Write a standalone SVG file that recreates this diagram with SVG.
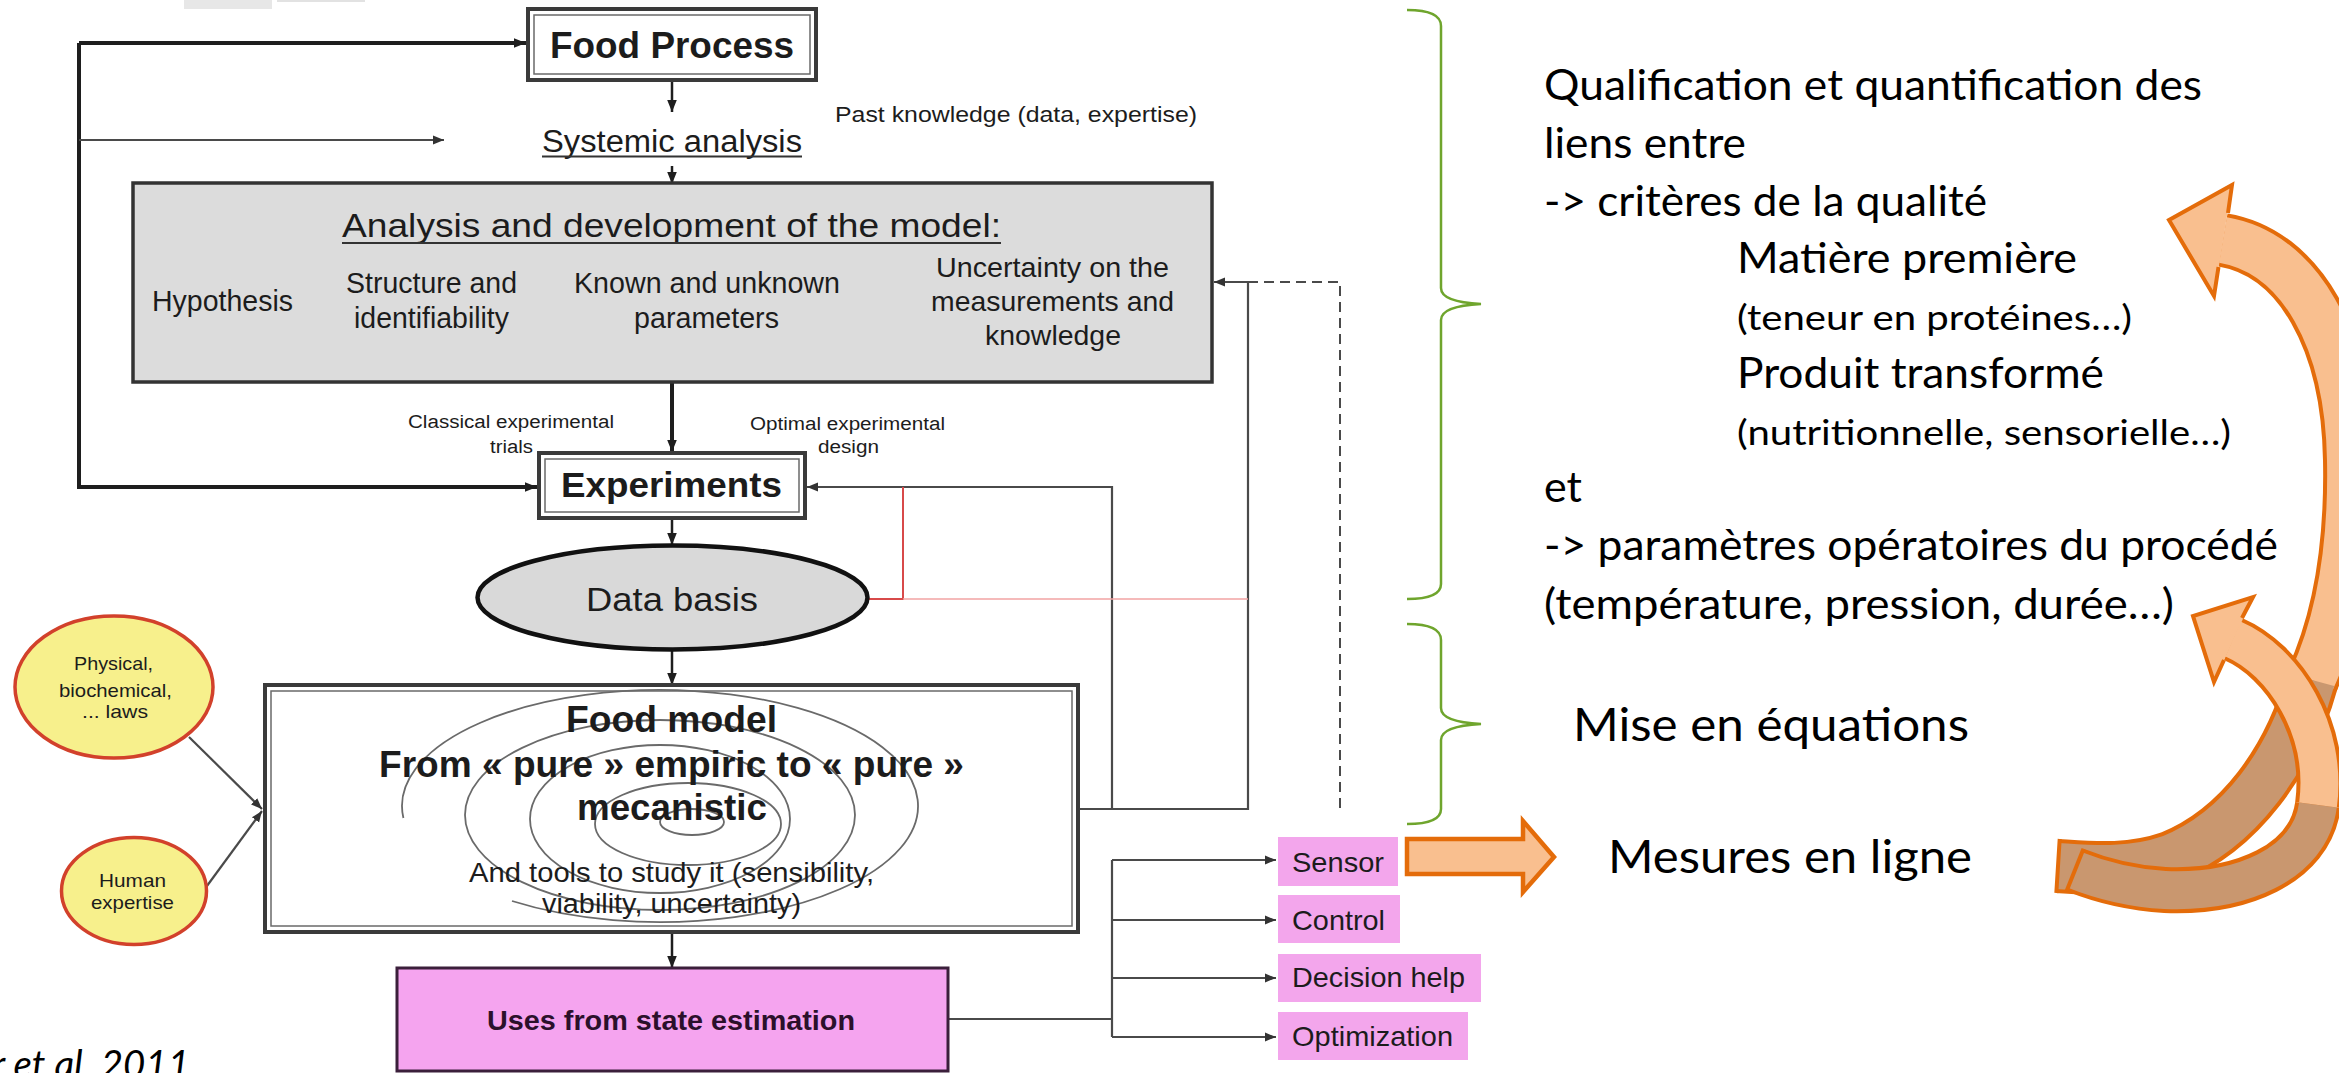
<svg xmlns="http://www.w3.org/2000/svg" width="2339" height="1073" viewBox="0 0 2339 1073">
  <defs>
    <style>
      .lt { font-family: "Liberation Sans", Arial, sans-serif; fill: #1c1c1c; }
      .b { font-weight: bold; }
      .rt { font-family: Lato, "Open Sans", sans-serif; fill: #000; }
      .thick { stroke: #1e1e1e; stroke-width: 4; fill: none; }
      .mid { stroke: #1e1e1e; stroke-width: 2.5; fill: none; }
      .thin { stroke: #4a4a4a; stroke-width: 2.2; fill: none; }
      .dash { stroke: #4a4a4a; stroke-width: 2; fill: none; stroke-dasharray: 10 6; }
      .frame-out { fill: #fff; stroke: #3a3a3a; stroke-width: 4; }
      .frame-in { fill: none; stroke: #6a6a6a; stroke-width: 1.5; }
      .spiral { fill: none; stroke: #6a6a6a; stroke-width: 1.8; }
      .law { fill: #f7f08c; stroke: #d2412b; stroke-width: 3.5; }
      .tag { fill: #f3a6ec; }
      .brace { fill: none; stroke: #6fa52d; stroke-width: 2.5; }
      .ol { fill: none; stroke: #e46c0a; stroke-linecap: butt; }
      .light { fill: none; stroke: #f9bf8f; stroke-linecap: butt; }
      .dark { fill: none; stroke: #c9976f; stroke-linecap: butt; }
    </style>
    <marker id="ah" viewBox="0 0 10 10" refX="10" refY="5" markerWidth="12" markerHeight="12" markerUnits="userSpaceOnUse" orient="auto">
      <path d="M0,1 L10,5 L0,9 z" fill="#1e1e1e"/>
    </marker>
    <marker id="ahg" viewBox="0 0 10 10" refX="10" refY="5" markerWidth="11" markerHeight="11" markerUnits="userSpaceOnUse" orient="auto">
      <path d="M0,1 L10,5 L0,9 z" fill="#333"/>
    </marker>
  </defs>

  <rect width="2339" height="1073" fill="#fff"/>

  <!-- slide remnants at the top edge -->
  <rect x="184" y="0" width="88" height="9" fill="#e7e7e7"/>
  <rect x="277" y="0" width="88" height="2" fill="#e2e2e2"/>

  <!-- connectors -->
  <g id="connectors">
    <path class="thick" d="M 79 43 H 526" marker-end="url(#ah)"/>
    <path class="thick" d="M 79 43 V 487 H 537" marker-end="url(#ah)"/>
    <path class="thin" d="M 79 140 H 444" marker-end="url(#ahg)"/>
    <path class="mid" d="M 672 80 V 112" marker-end="url(#ah)"/>
    <path class="mid" d="M 672 166 V 184" marker-end="url(#ah)"/>
    <path class="thick" d="M 672 382 V 452" marker-end="url(#ah)"/>
    <path class="mid" d="M 672 518 V 545" marker-end="url(#ah)"/>
    <path class="mid" d="M 672 650 V 685" marker-end="url(#ah)"/>
    <path class="mid" d="M 672 932 V 968" marker-end="url(#ah)"/>
    <!-- feedback from the food model -->
    <path class="thin" d="M 1078 809 H 1248 V 282 H 1214" marker-end="url(#ahg)"/>
    <path class="thin" d="M 1112 809 V 487 H 807" marker-end="url(#ahg)"/>
    <path class="dash" d="M 1248 282 H 1340 V 812"/>
    <!-- data basis link -->
    <path d="M 868 599 H 903 V 487" fill="none" stroke="#d84a4a" stroke-width="2"/>
    <path d="M 903 599 H 1248" fill="none" stroke="#f2a3a3" stroke-width="1.6"/>
    <!-- knowledge sources -->
    <path class="thin" d="M 189 737 L 262 809" marker-end="url(#ahg)"/>
    <path class="thin" d="M 204 890 L 262 811" marker-end="url(#ahg)"/>
    <!-- uses -->
    <path class="thin" d="M 948 1019 H 1112 M 1112 860 V 1037"/>
    <path class="thin" d="M 1112 860 H 1276" marker-end="url(#ahg)"/>
    <path class="thin" d="M 1112 920 H 1276" marker-end="url(#ahg)"/>
    <path class="thin" d="M 1112 978 H 1276" marker-end="url(#ahg)"/>
    <path class="thin" d="M 1112 1037 H 1276" marker-end="url(#ahg)"/>
  </g>

  <g id="food-process">
    <rect class="frame-out" x="528" y="9" width="288" height="71"/>
    <rect class="frame-in" x="534" y="15" width="276" height="59"/>
    <text class="lt b" x="550" y="58" font-size="37" textLength="244" lengthAdjust="spacingAndGlyphs">Food Process</text>
  </g>

  <g id="systemic-analysis">
    <text class="lt" x="542" y="152" font-size="31" textLength="260" lengthAdjust="spacingAndGlyphs">Systemic analysis</text>
    <line x1="542" y1="156.5" x2="802" y2="156.5" stroke="#333" stroke-width="2"/>
  </g>

  <g id="past-knowledge">
    <text class="lt" x="835" y="122" font-size="22" textLength="362" lengthAdjust="spacingAndGlyphs">Past knowledge (data, expertise)</text>
  </g>

  <g id="model-analysis">
    <rect x="133" y="183" width="1079" height="199" fill="#dcdcdc" stroke="#333" stroke-width="3.5"/>
    <text class="lt" x="342" y="237" font-size="34" textLength="659" lengthAdjust="spacingAndGlyphs">Analysis and development of the model:</text>
    <line x1="342" y1="243" x2="1001" y2="243" stroke="#333" stroke-width="2"/>
    <text class="lt" x="152" y="311" font-size="29" textLength="141" lengthAdjust="spacingAndGlyphs">Hypothesis</text>
    <text class="lt" x="346" y="293" font-size="29" textLength="171" lengthAdjust="spacingAndGlyphs">Structure and</text>
    <text class="lt" x="354" y="328" font-size="29" textLength="155" lengthAdjust="spacingAndGlyphs">identifiability</text>
    <text class="lt" x="574" y="293" font-size="29" textLength="266" lengthAdjust="spacingAndGlyphs">Known and unknown</text>
    <text class="lt" x="634" y="328" font-size="29" textLength="145" lengthAdjust="spacingAndGlyphs">parameters</text>
    <text class="lt" x="936" y="277" font-size="28" textLength="233" lengthAdjust="spacingAndGlyphs">Uncertainty on the</text>
    <text class="lt" x="931" y="311" font-size="28" textLength="243" lengthAdjust="spacingAndGlyphs">measurements and</text>
    <text class="lt" x="985" y="345" font-size="28" textLength="136" lengthAdjust="spacingAndGlyphs">knowledge</text>
  </g>

  <g id="trial-labels">
    <text class="lt" x="408" y="428" font-size="18" textLength="206" lengthAdjust="spacingAndGlyphs">Classical experimental</text>
    <text class="lt" x="490" y="453" font-size="18" textLength="43" lengthAdjust="spacingAndGlyphs">trials</text>
    <text class="lt" x="750" y="430" font-size="18" textLength="195" lengthAdjust="spacingAndGlyphs">Optimal experimental</text>
    <text class="lt" x="818" y="453" font-size="18" textLength="61" lengthAdjust="spacingAndGlyphs">design</text>
  </g>

  <g id="experiments">
    <rect class="frame-out" x="539" y="453" width="266" height="65"/>
    <rect class="frame-in" x="545" y="459" width="254" height="53"/>
    <text class="lt b" x="561" y="497" font-size="35" textLength="221" lengthAdjust="spacingAndGlyphs">Experiments</text>
  </g>

  <g id="data-basis">
    <ellipse cx="672.5" cy="597.5" rx="195" ry="52" fill="#d9d9d9" stroke="#111" stroke-width="4.5"/>
    <text class="lt" x="586" y="611" font-size="34" textLength="172" lengthAdjust="spacingAndGlyphs">Data basis</text>
  </g>

  <g id="food-model">
    <rect class="frame-out" x="265" y="685" width="813" height="247"/>
    <rect class="frame-in" x="271" y="691" width="801" height="235"/>
    <path class="spiral" d="M 403.4 818 A 258 116 0 1 1 512 901"/>
    <ellipse class="spiral" cx="660" cy="815" rx="195" ry="95"/>
    <ellipse class="spiral" cx="660" cy="819" rx="130" ry="74"/>
    <ellipse class="spiral" cx="688" cy="824" rx="93" ry="41"/>
    <ellipse class="spiral" cx="692" cy="822" rx="32" ry="13"/>
    <text class="lt b" x="566" y="732" font-size="36" textLength="211" lengthAdjust="spacingAndGlyphs">Food model</text>
    <text class="lt b" x="379" y="777" font-size="36" textLength="585" lengthAdjust="spacingAndGlyphs">From « pure » empiric to « pure »</text>
    <text class="lt b" x="577" y="820" font-size="36" textLength="190" lengthAdjust="spacingAndGlyphs">mecanistic</text>
    <text class="lt" x="469" y="882" font-size="28" textLength="405" lengthAdjust="spacingAndGlyphs">And tools to study it (sensibility,</text>
    <text class="lt" x="542" y="913" font-size="28" textLength="259" lengthAdjust="spacingAndGlyphs">viability, uncertainty)</text>
  </g>

  <g id="laws">
    <ellipse class="law" cx="114" cy="687" rx="99" ry="71"/>
    <text class="lt" x="74" y="670" font-size="19" textLength="79" lengthAdjust="spacingAndGlyphs">Physical,</text>
    <text class="lt" x="59" y="697" font-size="19" textLength="113" lengthAdjust="spacingAndGlyphs">biochemical,</text>
    <text class="lt" x="82" y="718" font-size="19" textLength="66" lengthAdjust="spacingAndGlyphs">... laws</text>
  </g>

  <g id="human-expertise">
    <ellipse class="law" cx="134" cy="891" rx="72.5" ry="53.5"/>
    <text class="lt" x="99" y="887" font-size="19" textLength="67" lengthAdjust="spacingAndGlyphs">Human</text>
    <text class="lt" x="91" y="909" font-size="19" textLength="83" lengthAdjust="spacingAndGlyphs">expertise</text>
  </g>

  <g id="uses">
    <rect x="397" y="968" width="551" height="103" fill="#f5a4ef" stroke="#3b1f3b" stroke-width="3"/>
    <text class="lt b" x="487" y="1030" font-size="27" textLength="368" lengthAdjust="spacingAndGlyphs" style="fill:#2b102b">Uses from state estimation</text>
  </g>

  <g id="sensor">
    <rect class="tag" x="1278" y="837" width="120" height="49"/>
    <text class="lt" x="1292" y="872" font-size="28" textLength="92" lengthAdjust="spacingAndGlyphs">Sensor</text>
  </g>
  <g id="control">
    <rect class="tag" x="1278" y="895" width="122" height="48"/>
    <text class="lt" x="1292" y="930" font-size="28" textLength="93" lengthAdjust="spacingAndGlyphs">Control</text>
  </g>
  <g id="decision-help">
    <rect class="tag" x="1278" y="954" width="203" height="48"/>
    <text class="lt" x="1292" y="987" font-size="28" textLength="173" lengthAdjust="spacingAndGlyphs">Decision help</text>
  </g>
  <g id="optimization">
    <rect class="tag" x="1278" y="1012" width="190" height="48"/>
    <text class="lt" x="1292" y="1046" font-size="28" textLength="161" lengthAdjust="spacingAndGlyphs">Optimization</text>
  </g>

  <!-- caption, cut at the left and bottom edges -->
  <text class="rt" x="-8" y="1078" font-size="39" font-style="italic" textLength="198" lengthAdjust="spacingAndGlyphs">r et al. 2011</text>

  <!-- braces -->
  <g id="braces">
    <path class="brace" d="M 1407 10 Q 1441 10 1441 26 V 288 Q 1441 302 1481 304 Q 1441 306 1441 320 V 584 Q 1441 599 1407 599"/>
    <path class="brace" d="M 1407 624 Q 1441 624 1441 640 V 708 Q 1441 722 1481 724 Q 1441 726 1441 740 V 809 Q 1441 824 1407 824"/>
  </g>

  <g id="sensor-arrow">
    <polygon points="1407,839 1523,839 1523,821 1554,857 1523,892 1523,874 1407,874" fill="#f9bf8f" stroke="#e46c0a" stroke-width="4.5" stroke-linejoin="miter"/>
  </g>

  <g id="notes">
    <text class="rt" x="1544" y="100" font-size="43" textLength="658" lengthAdjust="spacingAndGlyphs">Qualification et quantification des</text>
    <text class="rt" x="1544" y="158" font-size="43" textLength="202" lengthAdjust="spacingAndGlyphs">liens entre</text>
    <text class="rt" x="1544" y="216" font-size="43" textLength="443" lengthAdjust="spacingAndGlyphs">-&gt; critères de la qualité</text>
    <text class="rt" x="1737" y="273" font-size="43" textLength="340" lengthAdjust="spacingAndGlyphs">Matière première</text>
    <text class="rt" x="1737" y="330" font-size="35" textLength="395" lengthAdjust="spacingAndGlyphs">(teneur en protéines…)</text>
    <text class="rt" x="1737" y="388" font-size="43" textLength="367" lengthAdjust="spacingAndGlyphs">Produit transformé</text>
    <text class="rt" x="1737" y="445" font-size="35" textLength="494" lengthAdjust="spacingAndGlyphs">(nutritionnelle, sensorielle…)</text>
    <text class="rt" x="1544" y="502" font-size="43">et</text>
    <text class="rt" x="1544" y="560" font-size="43" textLength="734" lengthAdjust="spacingAndGlyphs">-&gt; paramètres opératoires du procédé</text>
    <text class="rt" x="1544" y="619" font-size="43" textLength="630" lengthAdjust="spacingAndGlyphs">(température, pression, durée…)</text>
    <text class="rt" x="1573" y="741" font-size="46" textLength="396" lengthAdjust="spacingAndGlyphs">Mise en équations</text>
    <text class="rt" x="1608" y="873" font-size="46" textLength="364" lengthAdjust="spacingAndGlyphs">Mesures en ligne</text>
  </g>

  <!-- curved arrow looping up to the quality criteria -->
  <g id="loop-arrow-quality">
    <path class="ol" stroke-width="54" d="M 2312 680 C 2335 630 2352 560 2350 460 C 2348 340 2300 253 2223 240"/>
    <path class="ol" stroke-width="54" d="M 2312 680 C 2290 760 2240 830 2170 858 C 2130 872 2090 868 2058 866"/>
    <path class="light" stroke-width="46" d="M 2312 680 C 2335 630 2352 560 2350 460 C 2348 340 2300 253 2223 240"/>
    <path class="dark" stroke-width="46" d="M 2312 680 C 2290 760 2240 830 2170 858 C 2130 872 2090 868 2058 866"/>
    <line x1="2059.7" y1="839" x2="2056.3" y2="893" stroke="#e46c0a" stroke-width="4"/>
    <polygon points="2232,185 2169,220 2214,296" fill="#f9bf8f"/>
    <path d="M 2228 213 L 2232 185 L 2169 220 L 2214 296 L 2218.5 267" fill="none" stroke="#e46c0a" stroke-width="4" stroke-linejoin="miter"/>
  </g>

  <!-- curved arrow looping up to the process parameters -->
  <g id="loop-arrow-process">
    <path class="ol" stroke-width="46" d="M 2233 639 C 2284 661 2328 730 2318 805"/>
    <path class="ol" stroke-width="46" d="M 2318 805 C 2310 865 2240 893 2165 890 C 2130 888 2100 880 2075 870"/>
    <path class="light" stroke-width="38" d="M 2233 639 C 2284 661 2328 730 2318 805"/>
    <path class="dark" stroke-width="38" d="M 2318 805 C 2310 865 2240 893 2165 890 C 2130 888 2100 880 2075 870"/>
    <line x1="2083.5" y1="848.7" x2="2066.5" y2="891.3" stroke="#e46c0a" stroke-width="4"/>
    <polygon points="2253,597 2193,616 2214,682" fill="#f9bf8f"/>
    <path d="M 2242 618 L 2253 597 L 2193 616 L 2214 682 L 2224 660" fill="none" stroke="#e46c0a" stroke-width="4" stroke-linejoin="miter"/>
  </g>
</svg>
